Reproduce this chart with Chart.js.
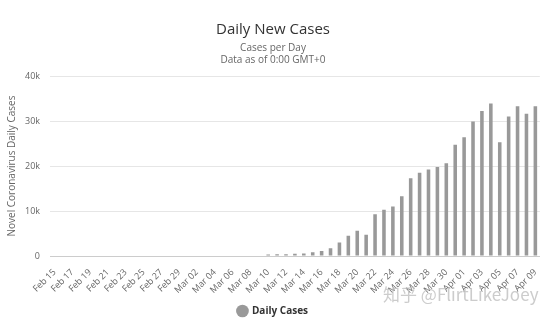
<!DOCTYPE html>
<html>
<head>
<meta charset="utf-8">
<script src="https://cdn.jsdelivr.net/npm/chart.js@4"></script>
<style>
    html, body { margin: 0; padding: 0; background: #fff; overflow: hidden; }
    #wrap { width: 546px; height: 320px; }
</style>
</head>
<body>
<div id="wrap"><canvas id="chart" width="546" height="320"></canvas></div>
<script>
    'use strict';

    // Feb 15 .. Apr 09 (2020)
    var dates = [
        'Feb 15', 'Feb 16', 'Feb 17', 'Feb 18', 'Feb 19', 'Feb 20', 'Feb 21', 'Feb 22',
        'Feb 23', 'Feb 24', 'Feb 25', 'Feb 26', 'Feb 27', 'Feb 28', 'Feb 29',
        'Mar 01', 'Mar 02', 'Mar 03', 'Mar 04', 'Mar 05', 'Mar 06', 'Mar 07', 'Mar 08',
        'Mar 09', 'Mar 10', 'Mar 11', 'Mar 12', 'Mar 13', 'Mar 14', 'Mar 15', 'Mar 16',
        'Mar 17', 'Mar 18', 'Mar 19', 'Mar 20', 'Mar 21', 'Mar 22', 'Mar 23', 'Mar 24',
        'Mar 25', 'Mar 26', 'Mar 27', 'Mar 28', 'Mar 29', 'Mar 30', 'Mar 31',
        'Apr 01', 'Apr 02', 'Apr 03', 'Apr 04', 'Apr 05', 'Apr 06', 'Apr 07', 'Apr 08', 'Apr 09'
    ];

    var dailyCases = [
        0, 0, 0, 0, 0, 0, 0, 0, 0, 0, 0, 0, 0, 0, 0,
        0, 0, 0, 0, 0, 0, 0, 0, 0,
        350, 380, 400, 520, 560, 820, 1100,
        1750, 3000, 4500, 5600, 4700, 9300, 10300, 11000,
        13300, 17300, 18500, 19200, 19800, 20600, 24700,
        26400, 29900, 32200, 33900, 25300, 31000, 33300, 31600, 33300
    ];

    var yTicks = [0, 10000, 20000, 30000, 40000];

    var watermark = {
        id: 'watermark',
        afterDraw: function(chart) {
            var ctx = chart.ctx;
            ctx.save();
            ctx.font = '17px "Noto Sans CJK SC", "Open Sans", sans-serif';
            ctx.fillStyle = 'rgba(195,195,195,0.85)';
            ctx.textAlign = 'left';
            ctx.textBaseline = 'middle';
            ctx.fillText('知乎 @FlirtLikeJoey', 383, 295);
            ctx.restore();
        }
    };

    var ctx = document.getElementById('chart').getContext('2d');
    new Chart(ctx, {
        type: 'bar',
        data: {
            labels: dates,
            datasets: [{
                label: 'Daily Cases',
                data: dailyCases,
                backgroundColor: '#999999',
                categoryPercentage: 1,
                barPercentage: 0.4
            }]
        },
        options: {
            responsive: false,
            animation: false,
            // legend box keeps extra space under its label, let it run off the bottom
            layout: { padding: { left: 0, right: 0, top: 0, bottom: -6 } },
            plugins: {
                title: {
                    display: true,
                    text: 'Daily New Cases',
                    color: '#333333',
                    font: { family: '"Open Sans", sans-serif', size: 15, weight: 'normal' },
                    padding: { top: 21, bottom: 2 }
                },
                subtitle: {
                    display: true,
                    text: ['Cases per Day', 'Data as of 0:00 GMT+0'],
                    color: '#666666',
                    font: { family: '"Open Sans", sans-serif', size: 10 },
                    padding: { top: 1, bottom: 10 }
                },
                legend: {
                    position: 'bottom',
                    labels: {
                        usePointStyle: true,
                        pointStyle: 'circle',
                        boxWidth: 9,
                        boxHeight: 9,
                        color: '#333333',
                        font: { family: '"Open Sans", sans-serif', size: 10, weight: 'bold' },
                        padding: 2
                    }
                },
                tooltip: { enabled: false }
            },
            scales: {
                x: {
                    afterFit: function(scale) { scale.height = 48; },
                    grid: { display: false },
                    border: { color: '#cccccc' },
                    ticks: {
                        autoSkip: false,
                        minRotation: 45,
                        maxRotation: 45,
                        color: '#666666',
                        font: { family: '"Open Sans", sans-serif', size: 9 },
                        padding: 3,
                        callback: function(v, i) { return i % 2 === 0 ? dates[i] : ''; }
                    }
                },
                y: {
                    min: 0,
                    max: 40000,
                    afterFit: function(scale) { scale.width = 50; },
                    afterBuildTicks: function(scale) {
                        scale.ticks = yTicks.map(function(v) { return { value: v }; });
                    },
                    grid: { color: '#e6e6e6', drawTicks: false },
                    border: { display: false },
                    ticks: {
                        color: '#666666',
                        padding: 10,
                        font: { family: '"Open Sans", sans-serif', size: 9 },
                        callback: function(v) { return v === 0 ? '0' : (v / 1000) + 'k'; }
                    },
                    title: {
                        display: true,
                        text: 'Novel Coronavirus Daily Cases',
                        color: '#666666',
                        font: { family: '"Open Sans", sans-serif', size: 10 },
                        padding: { top: 6, bottom: 0 }
                    }
                }
            }
        },
        plugins: [watermark]
    });
</script>
</body>
</html>
